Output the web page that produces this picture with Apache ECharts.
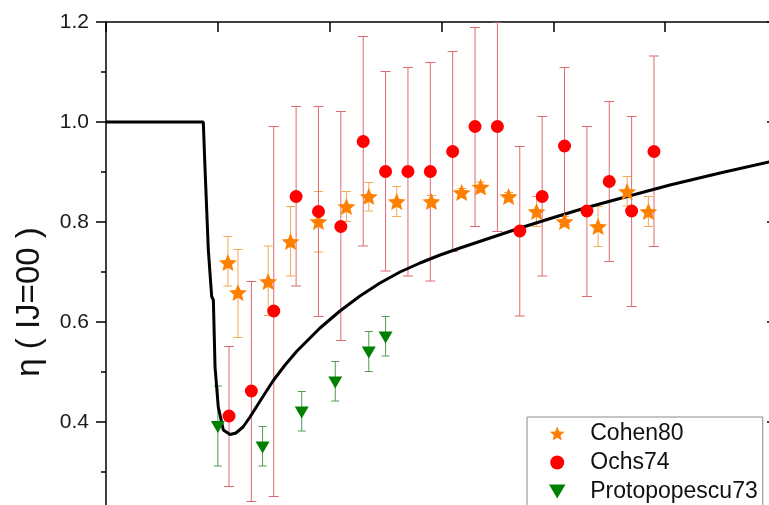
<!DOCTYPE html>
<html><head><meta charset="utf-8">
<script src="https://cdn.jsdelivr.net/npm/echarts@6/dist/echarts.min.js"></script>
<style>html,body{margin:0;padding:0;background:#fff}#c{width:769px;height:505px}</style>
</head><body><div id="c"></div>
<script>
// ---- data ----
const yAxisName = 'η ( IJ=00 )';
const seriesNames = ['Cohen80', 'Ochs74', 'Protopopescu73'];

const cohenE   = [1009,1018,1045,1065,1090,1115,1135,1160,1191,1218,1235,1260,1285,1310,1340,1366,1385];
const cohenEta = [0.719,0.659,0.681,0.761,0.801,0.831,0.851,0.841,0.841,0.859,0.870,0.851,0.821,0.801,0.791,0.861,0.821];
const cohenLo  = [0.672,0.569,0.613,0.692,0.740,0.801,0.822,0.811,0.831,0.849,0.860,0.843,0.791,0.791,0.751,0.832,0.791];
const cohenHi  = [0.771,0.745,0.752,0.831,0.861,0.861,0.879,0.871,0.853,0.867,0.880,0.859,0.851,0.811,0.831,0.891,0.851];

const ochsE   = [1010,1030,1050,1070,1090,1110,1130,1150,1170,1190,1210,1230,1250,1270,1290,1310,1330,1350,1370,1390];
const ochsEta = [0.412,0.462,0.622,0.851,0.821,0.791,0.961,0.901,0.901,0.901,0.941,0.991,0.991,0.782,0.851,0.952,0.822,0.881,0.822,0.941];
const ochsHi  = [0.551,0.681,0.991,1.031,1.031,1.021,1.171,1.101,1.109,1.119,1.141,1.189,1.200,0.951,1.011,1.109,0.991,1.041,1.011,1.132];
const ochsLo  = [0.271,0.241,0.251,0.672,0.611,0.563,0.752,0.702,0.692,0.682,0.741,0.791,0.781,0.612,0.692,0.795,0.651,0.721,0.631,0.751];

const protoE   = [1000,1040,1075,1105,1135,1150];
const protoEta = [0.390,0.349,0.419,0.479,0.539,0.569];
const protoHi  = [0.472,0.391,0.461,0.521,0.581,0.611];
const protoLo  = [0.312,0.312,0.382,0.442,0.501,0.532];

const curveE   = [900,987,988.5,991.5,994.5,996,997.5,1000.4,1004.9,1010.9,1016.2,1022.5,1028.8,1039.5,1049.3,1060.1,1070.8,1082.4,1091.4,1109.2,1127.1,1145.0,1162.9,1180.8,1198.7,1216.6,1243.4,1270.2,1298.8,1328.3,1357.8,1404.3,1449.1,1492.9,1500];
const curveEta = [1.0,1.0,0.91,0.744,0.651,0.644,0.51,0.43,0.384,0.375,0.378,0.39,0.41,0.448,0.482,0.514,0.542,0.568,0.588,0.622,0.652,0.678,0.700,0.718,0.734,0.748,0.768,0.788,0.808,0.828,0.846,0.874,0.898,0.920,0.923];

// ---- chart ----
const FONT = '"Liberation Sans", Arial, sans-serif';
const starPath = 'path://M100,0 L126.45,63.6 L195.1,69.1 L142.8,113.9 L158.78,180.9 L100,145 L41.22,180.9 L57.2,113.9 L4.9,69.1 L73.55,63.6 Z';
const triDown = 'path://M0,0 L10,0 L5,8.5 Z';

function zip2(a, b) { return a.map((v, i) => [v, b[i]]); }
function zip3(a, b, c) { return a.map((v, i) => [v, b[i], c[i]]); }

function errRender(color, capW) {
  return function (params, api) {
    const x = api.value(0), lo = api.value(1), hi = api.value(2);
    const p1 = api.coord([x, hi]), p2 = api.coord([x, lo]);
    const st = { stroke: color, lineWidth: 1 };
    return {
      type: 'group',
      children: [
        { type: 'line', shape: { x1: p1[0], y1: p1[1], x2: p2[0], y2: p2[1] }, style: st },
        { type: 'line', shape: { x1: p1[0] - capW / 2, y1: p1[1], x2: p1[0] + capW / 2, y2: p1[1] }, style: st },
        { type: 'line', shape: { x1: p2[0] - capW / 2, y1: p2[1], x2: p2[0] + capW / 2, y2: p2[1] }, style: st }
      ]
    };
  };
}

const chart = echarts.init(document.getElementById('c'), null, { renderer: 'canvas' });
chart.setOption({
  animation: false,
  backgroundColor: '#fff',
  grid: { left: 106, top: 22, width: 671, height: 500, containLabel: false, outerBoundsMode: 'none' },
  xAxis: [
    { type: 'value', min: 900, max: 1500, interval: 100, show: false },
    { type: 'value', min: 900, max: 1500, interval: 100, position: 'top',
      axisLine: { show: true, lineStyle: { color: '#000', width: 1.5 } },
      axisTick: { show: true, inside: true, length: 10, lineStyle: { color: '#000', width: 1.5 } },
      axisLabel: { show: false }, splitLine: { show: false } }
  ],
  yAxis: [
    { type: 'value', min: 0.2, max: 1.2, interval: 0.2, position: 'left',
      axisLine: { show: true, lineStyle: { color: '#000', width: 1.5 } },
      axisTick: { show: true, inside: false, length: 10, lineStyle: { color: '#000', width: 1.5 } },
      minorTick: { show: true, splitNumber: 2, length: 5, lineStyle: { color: '#000', width: 1.5 } },
      axisLabel: { fontSize: 21, fontFamily: FONT, color: '#1a1a1a', margin: 17,
        formatter: v => v.toFixed(1) },
      splitLine: { show: false } },
    { type: 'value', min: 0.2, max: 1.2, interval: 0.2, position: 'right',
      axisLine: { show: true, lineStyle: { color: '#000', width: 1.5 } },
      axisTick: { show: true, inside: true, length: 10, lineStyle: { color: '#000', width: 1.5 } },
      axisLabel: { show: false }, splitLine: { show: false } }
  ],
  legend: {
    orient: 'vertical', left: 527, top: 417, height: 140,
    data: seriesNames,
    itemWidth: 56, itemHeight: 14, itemGap: 6,
    padding: [5, 5, 8, 22],
    borderColor: '#8a8a8a', borderWidth: 1, backgroundColor: '#fff',
    textStyle: { fontSize: 23, fontFamily: FONT, color: '#111' }
  },
  graphic: [{
    type: 'text', x: 30, y: 302, rotation: Math.PI / 2,
    style: { text: yAxisName, font: '33px ' + FONT, fill: '#111',
      align: 'center', verticalAlign: 'middle', textAlign: 'center', textVerticalAlign: 'middle' }
  }],
  series: [
    { type: 'custom', name: 'errC', renderItem: errRender('#f2aa55', 9), data: zip3(cohenE, cohenLo, cohenHi), z: 1, silent: true, clip: true },
    { type: 'custom', name: 'errO', renderItem: errRender('#dd6a70', 10), data: zip3(ochsE, ochsLo, ochsHi), z: 1, silent: true, clip: true },
    { type: 'custom', name: 'errP', renderItem: errRender('#4f9a4f', 8), data: zip3(protoE, protoLo, protoHi), z: 1, silent: true, clip: true },
    { type: 'line', name: 'curve', data: zip2(curveE, curveEta), showSymbol: false, symbol: 'none',
      lineStyle: { color: '#000', width: 3 }, z: 2, silent: true, smooth: false },
    { type: 'scatter', name: 'Cohen80', data: zip2(cohenE, cohenEta), symbol: starPath, symbolSize: [18, 17],
      itemStyle: { color: '#ff8000', opacity: 1 }, z: 3 },
    { type: 'scatter', name: 'Ochs74', data: zip2(ochsE, ochsEta), symbol: 'circle', symbolSize: 13,
      itemStyle: { color: '#ff0000', opacity: 1 }, z: 3 },
    { type: 'scatter', name: 'Protopopescu73', data: zip2(protoE, protoEta), symbol: triDown, symbolSize: [14, 12],
      itemStyle: { color: '#008000', opacity: 1 }, z: 3 }
  ]
});
</script>
</body></html>
